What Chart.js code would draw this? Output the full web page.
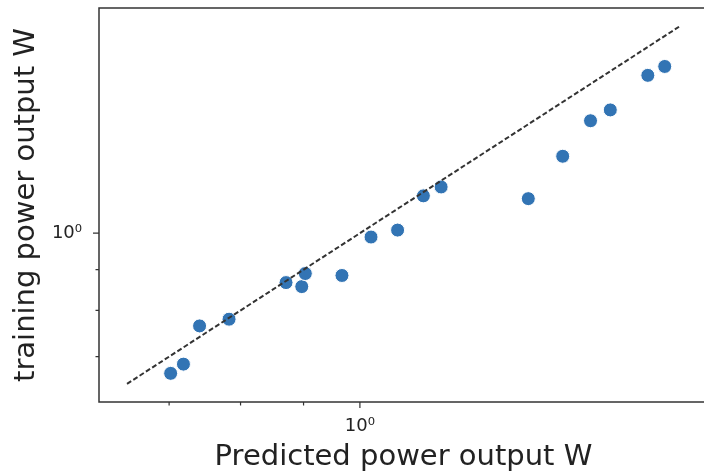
<!DOCTYPE html>
<html>
<head>
<meta charset="utf-8">
<script src="https://cdn.jsdelivr.net/npm/chart.js@4"></script>
<style>
  html, body { margin: 0; padding: 0; background: #fff; overflow: hidden; }
  #wrap { width: 716px; height: 476px; }
</style>
</head>
<body>
<div id="wrap"><canvas id="scatter-chart" width="716" height="476"></canvas></div>
<script>
// predicted vs training power output (log-log)
let predicted = [0.702, 0.719, 0.741, 0.783, 0.871, 0.897, 0.903, 0.967, 1.021, 1.073, 1.126, 1.164, 1.370, 1.461, 1.539, 1.597, 1.713, 1.768]
let training = [0.667, 0.685, 0.765, 0.780, 0.867, 0.857, 0.890, 0.885, 0.989, 1.009, 1.114, 1.143, 1.105, 1.249, 1.384, 1.428, 1.578, 1.619]
let idealLine = [0.647, 1.82]
let axisMin = 0.614
let axisMax = 1.917
let tickValues = [0.7, 0.8, 0.9, 1]
let majorTicks = [1]
let majorLabel = '10\u2070'

let font = "'DejaVu Sans', 'Liberation Sans', sans-serif"

let points = []
for (i = 0; i < predicted.length; i++) {
  points.push({x: predicted[i], y: training[i]})
}

// spines + matplotlib style tick marks (major longer than minor)
let frameAndTicks = {
  id: 'frameAndTicks',
  afterDraw: function(chart) {
    let ctx = chart.ctx, a = chart.chartArea
    ctx.save()
    ctx.strokeStyle = '#333'
    ctx.lineWidth = 1.5
    ctx.strokeRect(a.left, a.top, a.right - a.left, a.bottom - a.top)
    ctx.lineWidth = 1.2
    tickValues.forEach(function(v) {
      let len = majorTicks.includes(v) ? 6 : 3.5
      let px = chart.scales.x.getPixelForValue(v)
      let py = chart.scales.y.getPixelForValue(v)
      ctx.beginPath()
      ctx.moveTo(px, a.bottom)
      ctx.lineTo(px, a.bottom + len)
      ctx.moveTo(a.left, py)
      ctx.lineTo(a.left - len, py)
      ctx.stroke()
    })
    ctx.restore()
  }
}

function axisOpts(title, isX) {
  return {
    type: 'logarithmic',
    bounds: 'data',
    min: axisMin,
    max: axisMax,
    afterBuildTicks: function(scale) {
      scale.ticks = tickValues.map(function(v) { return {value: v} })
      scale.min = axisMin
      scale.max = axisMax
    },
    afterFit: function(scale) {
      if (isX) scale.height = 74
      else scale.width = 99
      scale.paddingTop = 0
      scale.paddingBottom = 0
      scale.paddingLeft = 0
      scale.paddingRight = 0
    },
    grid: {display: false, drawTicks: false},
    border: {display: false},
    ticks: {
      autoSkip: false,
      maxRotation: 0,
      padding: isX ? 14 : 17,
      color: '#222',
      font: {family: font, size: 18},
      callback: function(v) { return majorTicks.includes(v) ? majorLabel : '' }
    },
    title: {
      display: true,
      text: title,
      color: '#222',
      font: {family: font, size: 29},
      padding: isX ? {top: 0, bottom: 1} : {top: 9, bottom: 0}
    }
  }
}

new Chart(document.getElementById('scatter-chart'), {
  type: 'scatter',
  data: {
    datasets: [
      {
        type: 'line',
        data: [{x: idealLine[0], y: idealLine[0]}, {x: idealLine[1], y: idealLine[1]}],
        borderColor: '#333',
        borderWidth: 2,
        borderDash: [5, 2.5],
        pointRadius: 0,
        fill: false
      },
      {
        data: points,
        backgroundColor: '#3274b4',
        borderColor: '#ffffff',
        borderWidth: 1,
        pointRadius: 7,
        pointHoverRadius: 7
      }
    ]
  },
  options: {
    responsive: false,
    animation: false,
    layout: {padding: {top: 5, right: 2, left: 0, bottom: 0}},
    plugins: {legend: {display: false}, tooltip: {enabled: false}},
    scales: {
      x: axisOpts('Predicted power output W', true),
      y: axisOpts('training power output W', false)
    }
  },
  plugins: [frameAndTicks]
});
</script>
</body>
</html>
